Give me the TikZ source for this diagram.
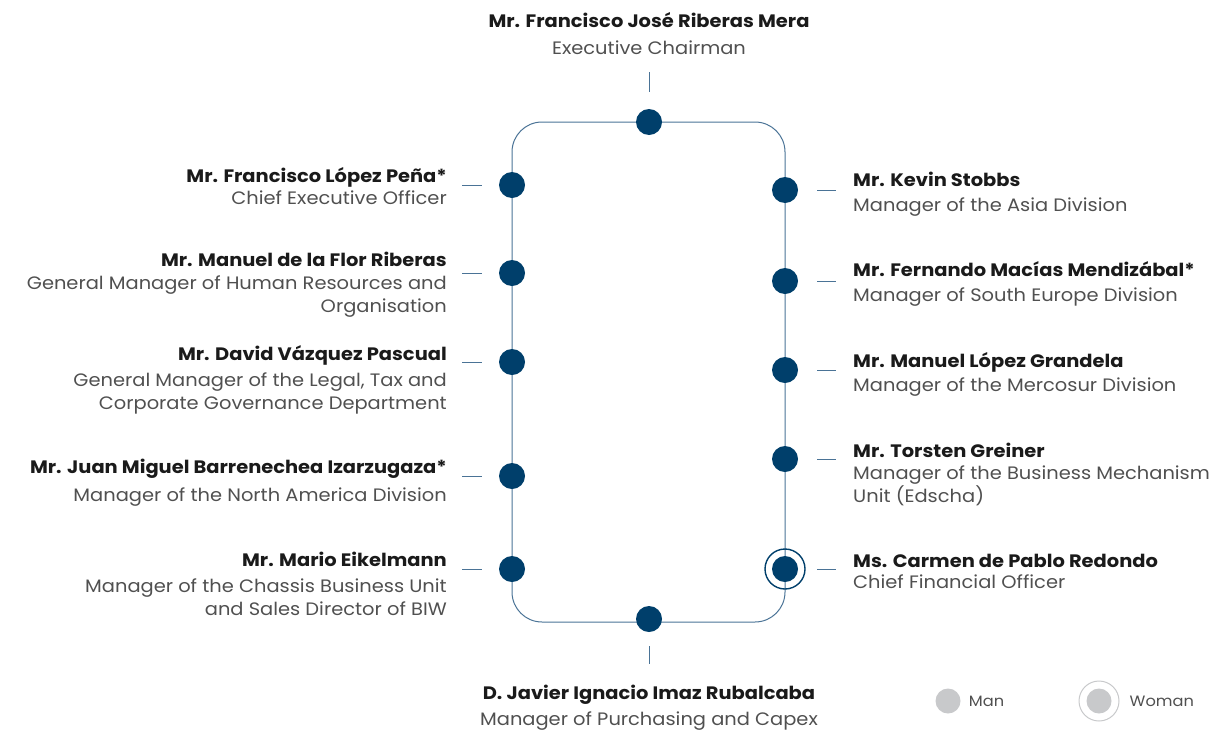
\documentclass[tikz,border=0pt]{standalone}
\usepackage{fontspec}
\setmainfont{Poppins}[FakeStretch=1.08]
\usepackage{xcolor}
\usetikzlibrary{positioning}

\definecolor{navy}{HTML}{003F6B}
\definecolor{frameblue}{HTML}{4A7396}
\definecolor{namegray}{HTML}{1A1A1A}
\definecolor{titlegray}{HTML}{505050}
\definecolor{legendgray}{HTML}{C8C9CB}

\begin{document}
\begin{tikzpicture}[x=1pt, y=-1pt,
  dot/.style={circle, fill=navy, minimum size=26pt, inner sep=0pt},
  ring/.style={circle, draw=navy, line width=1.4pt, minimum size=40pt, inner sep=0pt},
  tick/.style={draw=frameblue, line width=0.9pt},
  lname/.style={anchor=base east, inner sep=0pt, font=\fontsize{18}{20}\selectfont\bfseries, text=namegray},
  rname/.style={anchor=base west, inner sep=0pt, font=\fontsize{18}{20}\selectfont\bfseries, text=namegray},
  ltitle/.style={anchor=north east, inner sep=0pt, align=right, font=\fontsize{18}{23}\selectfont, text=titlegray},
  rtitle/.style={anchor=north west, inner sep=0pt, align=left, font=\fontsize{18}{23}\selectfont, text=titlegray},
  cname/.style={anchor=base, inner sep=0pt, font=\fontsize{18}{20}\selectfont\bfseries, text=namegray},
  ctitle/.style={anchor=base, inner sep=0pt, font=\fontsize{18}{20}\selectfont, text=titlegray},
  legdot/.style={circle, fill=legendgray, minimum size=25pt, inner sep=0pt},
  legtext/.style={anchor=west, inner sep=0pt, font=\fontsize{15}{16}\selectfont, text=titlegray}]

  \useasboundingbox (0,0) rectangle (1214,731);

  % frame
  \draw[frameblue, line width=1pt, rounded corners=30pt] (512,122) rectangle (785,622);

  % dots on the frame
  \node[dot] (top) at (649,122) {};
  \node[dot] (bot) at (649,619) {};
  \node[dot] (l1) at (512,185) {};
  \node[dot] (l2) at (512,273) {};
  \node[dot] (l3) at (512,362) {};
  \node[dot] (l4) at (512,476) {};
  \node[dot] (l5) at (512,569) {};
  \node[dot] (r1) at (785,190) {};
  \node[dot] (r2) at (785,281) {};
  \node[dot] (r3) at (785,370) {};
  \node[dot] (r4) at (785,459) {};
  \node[dot] (r5) at (785,569) {};
  \node[ring] (r5ring) at (r5) {};

  % ticks
  \coordinate (tt) at (649,72);
  \coordinate (bt) at (649,646);
  \draw[tick] (tt) -- ++(0,20);
  \draw[tick] (bt) -- ++(0,18);
  \foreach \d in {l1,l2,l3,l4,l5}
    \draw[tick] ([xshift=-50pt]\d.center) -- ([xshift=-30pt]\d.center);
  \foreach \d in {r1,r2,r3,r4,r5}
    \draw[tick] ([xshift=32pt]\d.center) -- ([xshift=51pt]\d.center);

  % top and bottom
  \node[cname] (topname) at (649,27) {Mr. Francisco José Riberas Mera};
  \node[ctitle] (toptitle) at (649,54) {Executive Chairman};
  \node[cname] (botname) at (649,699) {D. Javier Ignacio Imaz Rubalcaba};
  \node[ctitle] (bottitle) at (649,725) {Manager of Purchasing and Capex};

  % left column
  \node[lname] (n1) at (447,182) {Mr. Francisco López Peña*};
  \node[ltitle] (t1) at (447,191) {Chief Executive Officer};
  \node[lname] (n2) at (447,266) {Mr. Manuel de la Flor Riberas};
  \node[ltitle] (t2) at (447,276) {General Manager of Human Resources and\\Organisation};
  \node[lname] (n3) at (447,360) {Mr. David Vázquez Pascual};
  \node[ltitle] (t3) at (447,373) {General Manager of the Legal, Tax and\\Corporate Governance Department};
  \node[lname] (n4) at (447,473) {Mr. Juan Miguel Barrenechea Izarzugaza*};
  \node[ltitle] (t4) at (447,488) {Manager of the North America Division};
  \node[lname] (n5) at (447,566) {Mr. Mario Eikelmann};
  \node[ltitle] (t5) at (447,579) {Manager of the Chassis Business Unit\\and Sales Director of BIW};

  % right column
  \node[rname] (m1) at (853,186) {Mr. Kevin Stobbs};
  \node[rtitle] (s1) at (853,198) {Manager of the Asia Division};
  \node[rname] (m2) at (853,276) {Mr. Fernando Macías Mendizábal*};
  \node[rtitle] (s2) at (853,288) {Manager of South Europe Division};
  \node[rname] (m3) at (853,367) {Mr. Manuel López Grandela};
  \node[rtitle] (s3) at (853,378) {Manager of the Mercosur Division};
  \node[rname] (m4) at (853,457) {Mr. Torsten Greiner};
  \node[rtitle] (s4) at (853,466) {Manager of the Business Mechanism\\Unit (Edscha)};
  \node[rname] (m5) at (853,567) {Ms. Carmen de Pablo Redondo};
  \node[rtitle] (s5) at (853,575) {Chief Financial Officer};

  % legend
  \node[legdot] (man) at (948,701) {};
  \node[legtext, right=8pt of man] (mantext) {Man};
  \node[legdot] (woman) at (1099,701) {};
  \node[circle, draw=legendgray, line width=1pt, minimum size=40pt, inner sep=0pt] (womanring) at (woman) {};
  \node[legtext, right=10pt of womanring] (womantext) {Woman};
\end{tikzpicture}
\end{document}
